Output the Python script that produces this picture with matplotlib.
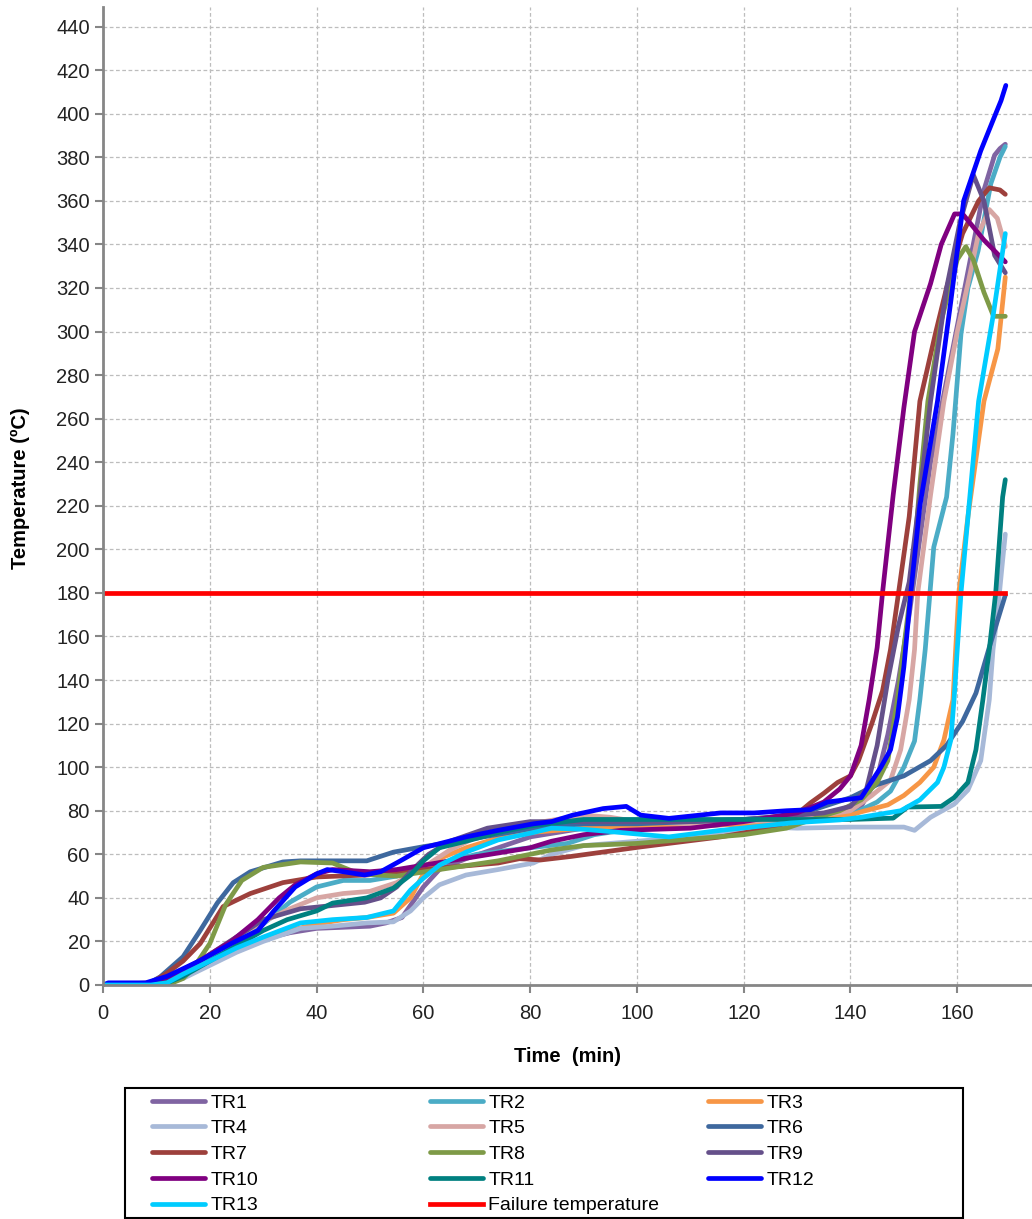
import matplotlib.pyplot as plt
from matplotlib.patches import Rectangle

plt.rcParams['font.family'] = ['Liberation Sans', 'DejaVu Sans']

# temperature data (time in min, temperature in ºC)
t_tr1 = [0, 9, 12, 16, 20, 25, 30, 35, 40, 45, 50, 53, 56, 58, 60, 63, 68, 74, 80, 90, 100, 110, 120, 130, 138, 142, 145, 147, 149, 151, 153, 155, 157, 159, 161, 163, 165, 167, 168, 169]
tr1 = [0, 0, 1, 5, 10, 16, 21, 24, 26, 26.5, 27, 28.5, 31, 38, 45, 53, 58, 63, 68, 72, 73, 73, 74, 76, 78, 82, 95, 115, 140, 170, 205, 240, 265, 290, 315, 340, 365, 381, 384, 386]

t_tr2 = [0, 9, 12, 15, 20, 25, 30, 35, 40, 45, 50, 55, 60, 70, 80, 87, 92, 100, 110, 120, 130, 140, 145, 147.5, 150, 152, 153, 154, 155.6, 158, 159.2, 159.7, 160.7, 162, 163.9, 166.3, 168, 169]
tr2 = [0, 0, 1, 5, 12, 20, 28, 38, 45, 48, 48, 50, 54, 60, 63, 65, 69, 72, 73, 74, 76, 78, 84, 89, 100, 112, 131, 154, 201, 224, 253, 268, 299, 320, 337, 368, 380, 385]

t_tr3 = [0, 10, 15, 20, 25, 30, 35, 40, 45, 49.4, 54.4, 57.6, 60, 63, 68, 74, 80, 90, 100, 110, 120, 130, 140, 142, 147, 150, 153, 155.6, 157.5, 159.2, 159.7, 160.3, 162, 165, 167.6, 169]
tr3 = [0, 0.5, 4, 10, 17, 21, 25, 28, 30, 31, 33, 40, 51, 58, 63, 67.5, 70, 72, 73, 73, 74, 76, 78, 79.5, 82.7, 87, 93, 100, 112.5, 131, 154, 180, 215, 268, 292, 325]

t_tr4 = [0, 10, 15, 20, 25, 30, 37, 43, 49.4, 54.4, 57.6, 60, 63, 68, 74, 80.6, 84, 90, 100, 110, 118, 124.5, 130, 140, 150, 152, 155, 159.4, 162, 164.4, 166, 166.7, 167.5, 168.5, 169]
tr4 = [0, 0, 3, 9, 15, 20, 26, 27, 28.5, 29, 34, 40, 46, 50.5, 53, 56, 60, 64, 66, 68, 70, 72.5, 72, 72.5, 72.5, 71, 77, 83, 89.5, 103, 131, 154, 170, 195, 207]

t_tr5 = [0, 9, 12, 15, 20, 25, 30, 35, 40, 45, 50, 55, 60, 65, 70, 80, 90, 95, 100, 110, 120, 130, 140, 144, 147.5, 149.4, 151, 152, 152.6, 155, 157.5, 160, 162, 164, 166, 167.5, 169]
tr5 = [0, 0, 2, 6, 14, 22, 29, 35, 40, 42, 43, 47, 54, 62, 68, 74, 78, 77, 75, 74, 75, 76, 80, 87, 94, 108, 131, 154, 180, 225, 268, 300, 322, 345, 356, 352, 339]

t_tr6 = [0, 8, 10.7, 15, 18.2, 21.4, 24.4, 27.6, 33.7, 37, 45, 49.4, 54.4, 60, 68, 80.6, 90, 100, 110, 120, 130, 140, 145, 150, 155, 158, 161, 163.5, 166, 168, 169]
tr6 = [0, 0, 3.7, 13, 25, 37.6, 47, 52, 56.5, 57, 57, 57, 61, 63.5, 66.6, 72, 74, 74, 75, 76, 78, 86, 92, 96, 103, 110, 121, 134, 155, 171, 179]

t_tr7 = [0, 9, 12, 15, 18.2, 22.5, 27.6, 33.7, 40, 49.4, 60, 74, 78, 82, 87.6, 100.7, 115.7, 125, 128, 132.5, 135, 137.6, 140, 141.5, 144, 146, 147.5, 149, 151, 153, 156, 158, 161, 164, 166, 168, 169]
tr7 = [0, 1, 5.5, 11, 19, 36, 42, 47, 49.6, 50.5, 53, 56, 58, 57.4, 59, 63.4, 68, 72, 74.4, 83.6, 88, 93, 96, 103, 120, 135, 154, 180, 215, 268, 300, 320, 345, 360, 366, 365, 363]

t_tr8 = [0, 12, 15, 17, 20, 23, 26, 30, 37, 43, 48, 55, 63, 74, 84, 90, 100, 110, 120, 128, 134, 138, 142, 145, 147, 148.8, 150, 151.5, 153, 154.5, 157, 160, 161.6, 163, 165, 166.8, 169]
tr8 = [0, 0, 3, 8, 19, 37, 48, 54, 56.5, 56, 51, 50, 53, 57, 62, 64, 65, 67, 69, 72, 77, 80, 85, 93, 103, 131, 155, 185, 230, 268, 305, 333, 339, 333, 318, 307, 307]

t_tr9 = [0, 10, 14, 20, 25, 30, 37, 45, 49, 52, 55, 58, 61, 65, 72, 80, 90, 100, 110, 120, 130, 135, 140, 143, 145, 147, 149, 151, 153, 155, 158, 160.5, 163, 165, 167, 169]
tr9 = [0, 0, 4, 14, 22, 30, 35, 37, 38, 40, 45, 53, 60, 66, 72, 75, 75, 75, 75, 76, 78, 79, 82, 90, 110, 140, 165, 185, 225, 268, 320, 350, 372, 360, 335, 327]

t_tr10 = [0, 8, 12, 18, 24, 29, 33, 36, 40, 43, 50, 55, 60, 70, 80, 84, 90, 97, 110, 120, 130, 135, 138, 140, 142, 143.5, 145, 146, 148, 150, 152, 155, 157, 159.5, 161, 163, 165, 167, 169]
tr10 = [0, 0, 3, 11, 20, 30, 40, 46, 51, 53, 52, 53, 55, 59, 63, 66, 69, 71, 72, 75, 79, 84, 90, 96, 110, 131, 155, 180, 225, 265, 300, 322, 340, 354, 354, 348, 342, 337, 332]

t_tr11 = [0, 9, 12, 15, 20, 25, 30, 34.5, 40, 43, 49.4, 54.4, 57.6, 60, 63, 68, 74, 80, 90, 100, 110, 120, 130, 140, 148, 150.7, 157, 159.4, 162, 163.5, 164.8, 166, 167.2, 168.5, 169]
tr11 = [0, 0, 1, 4, 11, 18, 25, 30, 34, 37.6, 40, 44.5, 50.5, 57, 63, 66, 70, 73, 76, 76, 76, 76, 76, 76, 76.6, 81.7, 82, 86, 93, 108, 131, 154, 180, 224, 232]

t_tr12 = [0, 1, 8, 12, 18, 24, 29, 32, 36, 40, 42, 45, 49, 52, 55.7, 60, 68, 74, 80.6, 84, 88, 93.7, 98, 100.7, 106, 115.7, 122, 128, 132.5, 135.7, 142, 145.7, 147.5, 148.8, 150, 151.3, 153, 156.3, 158.8, 161.2, 164.4, 167.2, 168.2, 169.1]
tr12 = [0, 1, 1, 4, 11, 19, 25, 34, 45, 51, 53, 52, 50.5, 52, 57, 63, 68, 71, 74, 75, 78, 81, 82, 78, 76.5, 79, 79, 80, 80.5, 84, 86, 100, 108, 123, 146, 180, 220, 268, 314, 360, 383, 400, 406, 413]

t_tr13 = [0, 9, 12, 15, 20, 25, 30, 37, 43, 49.4, 54.4, 57.6, 60, 63, 68, 74, 80.6, 84, 90, 97, 106, 115.7, 128.8, 138, 142, 149.4, 153, 156.3, 157.5, 158.8, 159.4, 160, 160.7, 164, 166.7, 169]
tr13 = [0, 0, 1, 5, 11, 17, 22, 28.5, 30, 31, 34, 43.6, 49, 55, 61, 66.6, 70, 72, 71.5, 70, 68, 71, 74.4, 75.8, 77, 80, 85, 93, 100, 112.5, 131, 154, 180, 268, 307, 345]

t_fail = [0, 169]
fail = [180, 180]

names = ['TR1', 'TR2', 'TR3', 'TR4', 'TR5', 'TR6', 'TR7', 'TR8', 'TR9', 'TR10', 'TR11', 'TR12', 'TR13']
times = [t_tr1, t_tr2, t_tr3, t_tr4, t_tr5, t_tr6, t_tr7, t_tr8, t_tr9, t_tr10, t_tr11, t_tr12, t_tr13]
temps = [tr1, tr2, tr3, tr4, tr5, tr6, tr7, tr8, tr9, tr10, tr11, tr12, tr13]
colors = ['#8064A2', '#4BACC6', '#F79646', '#A7B9D8', '#D7A6A4', '#3E689E', '#9D403C',
          '#7E9A47', '#65508A', '#800080', '#008080', '#0000FF', '#00CCFF']

fig = plt.figure(figsize=(10.32, 12.19), dpi=100)
ax = fig.add_axes([103/1032, 1-985/1219, 1-103/1032, (985-7)/1219])

lines = {}
for i in range(len(names)):
    l, = ax.plot(times[i], temps[i], color=colors[i], linewidth=3.4, label=names[i],
                 solid_capstyle='round', solid_joinstyle='round')
    lines[names[i]] = l
l, = ax.plot(t_fail, fail, color='#FF0000', linewidth=3.4, label='Failure temperature')
lines['Failure temperature'] = l

ax.set_xlim(0, 174)
ax.set_ylim(0, 449)
ax.set_xticks(range(0, 161, 20))
ax.set_yticks(range(0, 441, 20))
ax.grid(True, color='#BDBDBD', linestyle=(0, (3, 2)), linewidth=0.9)
ax.set_axisbelow(True)
for s in ['top', 'right']:
    ax.spines[s].set_visible(False)
for s in ['left', 'bottom']:
    ax.spines[s].set_color('#868686')
    ax.spines[s].set_linewidth(2)
ax.tick_params(colors='#868686', labelcolor='#222222', labelsize=14.5, length=6, width=1.5)
ax.tick_params(axis='x', pad=8)

fig.text(20/1032, 1-488/1219, 'Temperature (ºC)', rotation=90, ha='center', va='center',
         fontsize=14.5, fontweight='bold')
fig.text(567/1032, 1-1057/1219, 'Time  (min)', ha='center', va='center',
         fontsize=14.5, fontweight='bold')

# legend box with three equal columns
fig.patches.append(Rectangle((125/1032, 1-1218/1219), (963-125)/1032, (1218-1088)/1219,
                             transform=fig.transFigure, fill=False, edgecolor='black', linewidth=1.5))
cols = [['TR1', 'TR4', 'TR7', 'TR10', 'TR13'],
        ['TR2', 'TR5', 'TR8', 'TR11', 'Failure temperature'],
        ['TR3', 'TR6', 'TR9', 'TR12']]
col_x = [152, 430, 708]
for j in range(3):
    hs = [lines[n] for n in cols[j]]
    fig.legend(hs, cols[j], loc='upper left', bbox_to_anchor=(col_x[j]/1032, 1-1094/1219),
               frameon=False, fontsize=14, handlelength=2.75, handletextpad=0.25,
               labelspacing=0.415, borderpad=0, borderaxespad=0)

plt.savefig('out.png', dpi=100)
